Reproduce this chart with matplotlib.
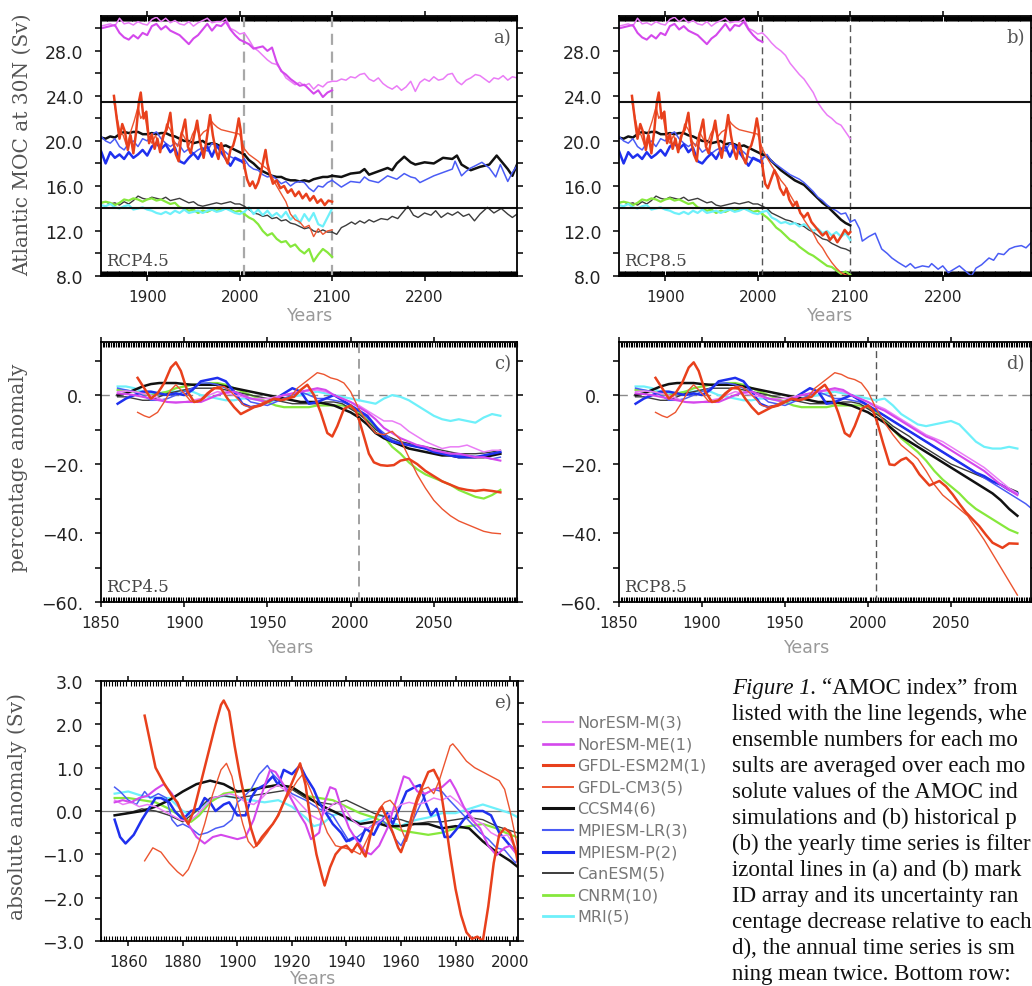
import numpy as np
import matplotlib
matplotlib.use('Agg')
import matplotlib.pyplot as plt
from matplotlib.ticker import MultipleLocator

W, H = 1032, 987

# ---------------- legend ----------------
model_names = ['NorESM-M(3)', 'NorESM-ME(1)', 'GFDL-ESM2M(1)', 'GFDL-CM3(5)', 'CCSM4(6)',
               'MPIESM-LR(3)', 'MPIESM-P(2)', 'CanESM(5)', 'CNRM(10)', 'MRI(5)']
model_keys = ['nm', 'nme', 'esm', 'cm3', 'ccsm', 'lr', 'p', 'can', 'cnrm', 'mri']
model_colors = ['#ea7cf6', '#d448ec', '#e8401c', '#ec5530', '#111111',
                '#4a5cf5', '#1f30ee', '#3c3c3c', '#86e83c', '#6ef0fa']
model_widths = [1.1, 1.5, 1.8, 1.0, 1.8, 1.1, 1.8, 1.0, 1.6, 1.6]

# ---------------- panels a/b: AMOC at 30N (Sv) ----------------
hist_years = list(range(1850, 2006, 5))
scen_years = list(range(2005, 2101, 5))

noresm_m_hist = [30.2, 30.3, 30.4, 30.2, 30.9, 30.4, 30.5, 30.3, 30.6, 30.4, 30.3, 30.8, 31.0, 30.6, 30.9, 30.5,
                 30.7, 30.4, 30.3, 30.6, 30.2, 30.5, 30.7, 30.9, 30.5, 30.6, 30.6, 30.9, 30.0, 29.8, 29.5, 29.6]
noresm_me_hist = [30.0, 30.1, 30.2, 30.3, 29.6, 29.2, 29.0, 29.4, 29.1, 29.6, 29.4, 30.2, 30.4, 29.9, 30.2, 29.8,
                  29.6, 29.4, 29.0, 28.6, 29.1, 29.4, 29.9, 30.4, 29.8, 30.3, 30.2, 30.6, 29.9, 29.4, 29.0, 28.8]
ccsm4_hist = [20.3, 20.2, 20.4, 20.3, 20.6, 20.8, 20.7, 20.8, 20.8, 20.6, 20.6, 20.7, 20.6, 20.7, 20.7, 20.5,
              20.4, 20.2, 20.0, 20.0, 19.8, 19.9, 20.0, 19.7, 19.8, 19.7, 19.5, 19.6, 19.4, 19.2, 19.0, 18.8]
mpi_lr_hist = [20.4, 20.0, 19.8, 20.2, 19.5, 19.2, 19.8, 20.0, 19.5, 20.2, 20.0, 20.6, 20.8, 20.2, 19.8, 19.5,
               19.8, 19.6, 19.0, 19.3, 18.9, 19.2, 19.4, 19.1, 19.8, 19.6, 19.3, 19.0, 18.6, 18.4, 18.2, 18.4]
mpi_p_hist = [19.1, 18.0, 19.0, 18.5, 18.8, 18.4, 19.0, 18.5, 18.8, 19.2, 18.7, 19.5, 19.8, 19.3, 19.7, 19.0,
              19.4, 18.2, 18.0, 18.5, 18.9, 18.4, 19.2, 19.5, 18.6, 19.6, 19.0, 18.4, 17.8, 18.5, 18.3, 18.0]
canesm_hist = [14.5, 14.6, 14.4, 14.5, 14.3, 14.6, 14.4, 14.7, 15.1, 14.9, 14.8, 15.0, 14.9, 14.8, 15.0, 14.7,
               14.8, 14.9, 14.7, 14.5, 14.6, 14.3, 14.2, 14.3, 14.4, 14.5, 14.4, 14.5, 14.6, 14.4, 14.4, 14.2]
cnrm_hist = [14.5, 14.6, 14.5, 14.3, 14.5, 14.8, 14.7, 14.9, 14.8, 14.6, 14.8, 14.9, 14.7, 14.8, 14.6, 14.4,
             14.5, 14.1, 14.0, 13.8, 13.9, 13.6, 13.8, 13.7, 13.9, 13.8, 13.9, 14.0, 13.9, 13.7, 13.8, 13.5]
mri_hist = [14.3, 14.2, 14.4, 14.1, 14.0, 14.2, 14.3, 13.9, 14.0, 14.1, 13.9, 13.8, 13.6, 13.5, 13.7, 13.5,
            13.8, 13.6, 13.9, 13.6, 13.7, 13.8, 13.6, 13.8, 13.9, 13.7, 13.8, 14.0, 13.8, 13.6, 13.5, 13.7]
esm2m_hist = [(1864, 24.0), (1867, 22.0), (1870, 20.2), (1873, 21.5), (1876, 20.8), (1879, 19.2), (1882, 20.5),
              (1885, 18.9), (1888, 20.8), (1891, 23.5), (1893, 24.3), (1896, 22.0), (1899, 22.6), (1902, 19.8),
              (1905, 20.6), (1908, 19.3), (1911, 20.2), (1914, 19.0), (1917, 20.4), (1921, 21.0), (1925, 22.5),
              (1928, 20.0), (1931, 18.8), (1934, 18.2), (1937, 20.5), (1941, 21.9), (1944, 19.5), (1947, 18.9),
              (1950, 20.2), (1954, 21.8), (1957, 20.0), (1961, 18.5), (1964, 20.0), (1968, 22.3), (1971, 20.5),
              (1974, 19.2), (1977, 18.4), (1980, 19.8), (1984, 18.6), (1987, 18.0), (1990, 19.2), (1993, 19.6),
              (1996, 20.5), (1999, 22.0), (2001, 21.0), (2003, 19.2), (2005, 17.8)]
cm3_hist = [(1864, 23.5), (1867, 22.2), (1870, 21.0), (1874, 20.5), (1878, 19.5), (1882, 20.8), (1886, 21.8),
            (1890, 23.0), (1893, 22.0), (1897, 22.5), (1901, 20.5), (1905, 19.8), (1909, 20.5), (1913, 19.5),
            (1917, 20.0), (1921, 21.5), (1925, 21.0), (1929, 20.0), (1933, 19.5), (1937, 20.8), (1941, 20.2),
            (1945, 19.6), (1949, 20.6), (1953, 21.2), (1957, 20.4), (1961, 20.8), (1965, 21.0), (1969, 21.8),
            (1972, 21.5), (1976, 21.2), (1980, 21.0), (1985, 20.9), (1990, 20.8), (1995, 20.7), (2000, 20.6),
            (2003, 19.8), (2005, 19.3)]

# RCP4.5
noresm_m_45 = [29.6, 29.0, 28.3, 28.0, 27.6, 27.2, 26.9, 26.8, 26.3, 25.6, 25.3, 25.0, 25.2, 24.9, 25.1, 24.6,
               25.0, 24.8, 25.2, 25.3]
noresm_me_45 = [28.8, 28.6, 28.2, 28.3, 28.4, 28.0, 28.3, 27.0, 26.2, 25.9, 25.5, 25.2, 24.9, 25.0, 24.6, 24.2,
                24.5, 23.9, 24.3, 24.5]
ccsm4_45 = [18.8, 18.3, 18.0, 17.6, 17.3, 17.1, 16.9, 16.8, 16.8, 16.6, 16.5, 16.5, 16.4, 16.5, 16.4, 16.6,
            16.7, 16.8, 16.8, 16.9]
mpi_lr_45 = [18.4, 17.8, 17.5, 17.4, 17.0, 16.8, 16.9, 16.6, 16.2, 16.4, 16.0, 16.3, 16.4, 16.3, 15.8, 15.5,
             16.0, 15.9, 16.3, 16.5]
canesm_45 = [14.2, 13.9, 13.6, 13.5, 13.3, 13.4, 13.1, 13.2, 12.9, 13.0, 12.7, 12.6, 12.4, 12.2, 12.3, 12.0,
             11.9, 12.1, 11.9, 11.9]
cnrm_45 = [13.5, 13.2, 13.0, 12.6, 12.0, 11.6, 11.8, 11.3, 11.0, 11.1, 10.6, 10.8, 10.3, 10.0, 10.4, 9.3,
           9.9, 10.4, 10.1, 9.7]
mri_45 = [13.7, 14.1, 13.5, 13.9, 13.4, 13.8, 13.3, 13.6, 13.2, 13.7, 13.0, 13.4, 12.7, 13.5, 12.9, 13.6,
          12.6, 12.4, 13.2, 14.0]
cm3_45 = [19.3, 18.8, 18.5, 18.2, 17.8, 17.5, 16.8, 16.0, 15.3, 14.6, 13.5, 13.0, 12.8, 12.3, 12.5, 11.5,
          12.2, 11.7, 12.0, 12.1]
esm2m_45 = [(2005, 17.8), (2008, 16.6), (2011, 16.0), (2014, 16.4), (2017, 15.8), (2020, 16.3), (2023, 17.2),
            (2026, 18.4), (2028, 19.2), (2030, 18.0), (2033, 17.0), (2036, 16.2), (2040, 16.5), (2044, 15.8),
            (2048, 16.0), (2052, 15.4), (2056, 15.7), (2060, 15.1), (2064, 15.5), (2068, 14.9), (2072, 15.3),
            (2076, 14.7), (2080, 15.1), (2084, 14.5), (2088, 14.8), (2092, 14.3), (2096, 14.7), (2100, 14.6)]
noresm_m_ext45 = [(2100, 25.3), (2105, 25.3), (2110, 25.5), (2115, 25.4), (2120, 25.7), (2125, 25.6), (2130, 25.9),
                  (2135, 26.0), (2140, 25.5), (2145, 25.3), (2150, 25.6), (2155, 25.1), (2160, 24.8), (2165, 24.6),
                  (2170, 24.9), (2175, 24.5), (2180, 24.8), (2185, 25.3), (2190, 24.4), (2195, 25.2), (2200, 25.5),
                  (2205, 25.3), (2210, 25.7), (2215, 25.4), (2220, 25.5), (2225, 25.9), (2230, 26.0), (2235, 25.3),
                  (2240, 25.0), (2245, 25.4), (2250, 25.6), (2255, 25.9), (2260, 25.8), (2265, 25.5), (2270, 25.2),
                  (2275, 25.6), (2280, 25.5), (2285, 25.8), (2290, 25.4), (2295, 25.7), (2300, 25.6)]
ccsm4_ext45 = [(2100, 16.9), (2110, 16.8), (2120, 17.1), (2130, 17.2), (2135, 17.5), (2140, 17.0), (2150, 17.3),
               (2160, 17.6), (2165, 17.4), (2170, 18.0), (2178, 18.6), (2185, 18.1), (2190, 17.9), (2200, 18.1),
               (2210, 18.0), (2220, 18.5), (2230, 18.4), (2235, 18.7), (2240, 17.9), (2250, 17.4), (2260, 17.7),
               (2270, 17.9), (2278, 18.7), (2285, 18.0), (2290, 17.5), (2295, 16.9), (2300, 17.9)]
mpi_lr_ext45 = [(2100, 16.5), (2105, 16.2), (2110, 15.9), (2120, 16.4), (2130, 16.3), (2135, 16.8), (2140, 16.5),
                (2150, 16.3), (2155, 16.6), (2160, 16.9), (2170, 16.6), (2178, 17.1), (2185, 16.8), (2190, 16.7),
                (2195, 16.3), (2200, 16.5), (2210, 16.9), (2220, 17.2), (2230, 17.5), (2233, 18.2), (2240, 16.9),
                (2245, 17.3), (2250, 17.6), (2255, 17.8), (2262, 18.1), (2270, 17.6), (2277, 16.8), (2282, 17.9),
                (2290, 16.4), (2295, 17.2), (2300, 17.8)]
canesm_ext45 = [(2100, 11.9), (2105, 11.7), (2110, 12.3), (2115, 12.5), (2121, 12.8), (2125, 12.6), (2130, 12.9),
                (2135, 12.7), (2140, 13.0), (2145, 12.8), (2153, 13.1), (2160, 13.0), (2165, 13.3), (2171, 13.1),
                (2176, 13.6), (2182, 14.2), (2188, 13.4), (2193, 13.2), (2200, 13.6), (2207, 13.4), (2212, 13.8),
                (2218, 13.2), (2225, 13.6), (2230, 13.4), (2236, 13.7), (2242, 13.3), (2248, 13.5), (2254, 12.9),
                (2260, 13.5), (2268, 14.1), (2275, 13.6), (2283, 14.0), (2290, 13.5), (2295, 13.2), (2300, 13.5)]

# RCP8.5
noresm_m_85 = [29.6, 29.2, 28.7, 28.3, 28.0, 27.6, 26.9, 26.4, 25.9, 25.5, 24.9, 24.3, 23.4, 22.8, 22.3, 22.0,
               21.6, 21.4, 20.8, 20.2]
ccsm4_85 = [18.8, 18.6, 18.2, 17.8, 17.4, 17.1, 16.8, 16.5, 16.3, 16.1, 15.7, 15.3, 14.9, 14.5, 14.2, 13.8,
            13.4, 13.0, 12.7, 12.5]
mpi_lr_85 = [18.4, 18.8, 18.2, 17.9, 17.6, 17.3, 17.0, 16.8, 16.6, 16.3, 15.9, 15.5, 15.0, 14.7, 14.3, 14.0,
             13.8, 13.5, 13.6, 12.8]
canesm_85 = [14.2, 14.0, 13.6, 13.4, 13.2, 13.0, 12.9, 12.7, 12.6, 12.4, 12.1, 11.9, 11.6, 11.3, 11.2, 10.9,
             10.7, 10.5, 10.4, 10.2]
cnrm_85 = [13.5, 13.2, 12.8, 12.3, 12.0, 11.6, 11.2, 11.0, 10.6, 10.3, 10.0, 9.8, 9.5, 9.2, 8.9, 8.8,
           8.5, 8.2, 8.4, 8.1]
mri_85 = [13.7, 13.8, 13.2, 13.0, 12.7, 12.8, 12.6, 12.7, 12.4, 12.6, 12.3, 12.0, 12.2, 11.8, 12.0, 11.6,
          11.9, 11.5, 11.8, 11.2]
cm3_85 = [19.3, 18.5, 17.8, 17.2, 16.5, 16.0, 15.2, 14.5, 13.8, 13.0, 12.4, 11.8, 11.0, 10.5, 9.8, 9.2,
          8.7, 8.3, 8.1, 8.0]
esm2m_85 = [(2005, 17.8), (2008, 16.2), (2011, 15.8), (2014, 16.5), (2018, 17.4), (2021, 16.8), (2024, 15.8),
            (2028, 15.2), (2031, 15.8), (2034, 14.8), (2038, 14.2), (2042, 14.6), (2046, 13.6), (2050, 13.2),
            (2054, 13.6), (2058, 12.8), (2062, 12.4), (2066, 12.0), (2070, 11.6), (2074, 11.9), (2078, 11.2),
            (2082, 11.6), (2086, 11.0), (2090, 11.5), (2094, 12.1), (2098, 11.7), (2100, 11.9)]
mpi_lr_ext85 = [(2100, 12.8), (2105, 13.0), (2110, 12.2), (2113, 11.1), (2120, 11.5), (2127, 11.8), (2134, 10.4),
                (2140, 10.0), (2145, 9.6), (2152, 9.2), (2160, 8.8), (2165, 9.1), (2170, 8.7), (2178, 8.9),
                (2185, 8.8), (2188, 9.1), (2195, 8.6), (2200, 8.9), (2206, 8.3), (2212, 8.6), (2218, 8.9),
                (2225, 8.4), (2231, 8.0), (2236, 8.7), (2242, 9.0), (2250, 9.6), (2255, 9.4), (2260, 10.0),
                (2266, 9.9), (2272, 10.4), (2278, 10.6), (2285, 10.7), (2290, 10.5), (2296, 11.0), (2300, 11.2)]

# ---------------- panels c/d: percentage anomaly ----------------
pct_hist_years = list(range(1860, 2006, 5))
pct_scen_years = list(range(2005, 2091, 5))

noresm_m_pct = [1.0, 1.2, 1.0, 0.5, 0.0, -1.0, -2.0, -2.0, -2.0, -1.5, -1.0, 0.0, 1.0, 0.5, 0.0,
                -0.5, -1.0, -1.0, -1.0, -0.5, 0.0, 0.5, 1.0, 1.2, 1.5, 1.0, 0.0, -1.0, -2.0, -3.0]
noresm_me_pct = [0.5, 0.3, 0.0, -0.5, -1.0, -1.5, -2.0, -2.2, -2.0, -2.0, -2.0, -1.0, 0.0, 0.8, 1.0,
                 0.0, -1.0, -1.5, -2.0, -1.0, 0.0, 0.5, 1.0, 1.5, 2.0, 1.5, 0.0, -1.0, -2.0, -3.5]
ccsm4_pct = [0.0, 0.5, 1.5, 2.5, 3.2, 3.5, 3.5, 3.5, 3.2, 3.0, 3.0, 3.0, 3.0, 2.5, 2.0,
             1.5, 1.0, 0.5, 0.0, -0.5, -1.0, -1.5, -2.0, -2.0, -2.0, -2.5, -3.0, -4.0, -5.0, -6.5]
canesm_pct = [-0.5, -0.5, -1.0, -1.5, -1.5, -0.5, 0.5, 1.0, 1.5, 2.0, 2.0, 2.0, 2.0, 1.5, 1.0,
              0.5, 0.0, -0.5, -1.0, -1.5, -2.0, -2.5, -2.5, -2.5, -2.5, -2.0, -2.0, -2.5, -4.0, -5.5]
mpi_lr_pct = [2.0, 1.5, 1.0, 0.0, -1.5, -1.5, -1.0, 0.0, 1.0, 2.0, 3.5, 3.5, 3.0, 2.0, 1.0,
              0.0, -2.0, -2.5, -3.0, -2.0, -1.0, 0.0, 1.0, 0.0, -1.0, -1.0, -1.5, -2.0, -3.0, -4.5]
mpi_p_pct = [-2.5, -1.0, 0.0, 1.0, 1.0, 0.5, 0.0, 0.5, 0.0, 1.5, 4.0, 4.5, 5.0, 4.0, 1.0,
             -2.5, -3.5, -3.0, -2.0, -1.0, 0.5, 2.0, 1.0, -2.5, -2.0, -1.0, 0.0, -1.5, -3.0, -4.5]
cnrm_pct = [1.5, 1.3, 1.0, 0.5, 0.0, 0.5, 1.0, 2.0, 2.5, 3.0, 3.0, 3.5, 3.5, 3.0, 2.0,
            1.0, 0.0, -1.0, -2.0, -3.0, -3.5, -3.5, -3.5, -3.5, -3.0, -3.0, -3.0, -3.0, -3.5, -5.0]
mri_pct = [2.5, 2.5, 2.0, 1.0, 0.5, 0.5, 1.0, 1.0, 1.5, 1.0, 0.0, -0.5, -1.0, -1.5, -1.5,
           -1.0, -1.0, -1.5, -2.0, -1.5, -1.0, -0.5, 0.0, 0.5, 1.0, 0.5, 0.0, -0.5, -1.0, -1.5]
esm2m_pct = [(1872, 5.0), (1876, 2.0), (1880, -1.0), (1884, 0.5), (1888, 3.5), (1892, 8.0), (1895, 9.5),
             (1898, 7.0), (1902, 1.0), (1906, -2.0), (1910, -1.5), (1914, 0.5), (1918, 2.0), (1922, 2.0),
             (1926, -1.0), (1930, -3.5), (1934, -5.5), (1938, -4.5), (1942, -3.5), (1946, -3.0), (1950, -2.0),
             (1954, -1.0), (1958, -1.5), (1962, -1.0), (1966, -0.5), (1970, 1.5), (1974, 3.0), (1978, 0.0),
             (1982, -5.0), (1986, -11.0), (1989, -12.0), (1992, -9.0), (1996, -4.0), (2000, -3.0),
             (2003, -4.5), (2005, -7.0)]
cm3_pct = [(1872, -5.0), (1876, -6.0), (1879, -6.5), (1884, -5.0), (1888, -2.0), (1892, 1.5), (1895, 3.0),
           (1900, 0.5), (1904, -1.8), (1908, -2.0), (1912, -1.0), (1916, 1.0), (1920, 2.5), (1924, 2.5),
           (1928, 1.0), (1932, -1.0), (1936, -3.0), (1940, -3.5), (1944, -3.0), (1948, -2.0), (1952, -1.5),
           (1956, -1.0), (1960, -1.5), (1964, -0.5), (1968, 2.0), (1972, 3.5), (1976, 5.0), (1980, 6.5),
           (1984, 6.0), (1988, 5.0), (1992, 4.5), (1996, 3.5), (2000, 1.0), (2005, -4.0)]

# RCP4.5 percentages
noresm_m_pct45 = [-3.0, -4.5, -6.0, -7.5, -7.5, -8.5, -10.5, -12.0, -13.5, -14.5, -15.5, -15.0, -15.0, -14.5,
                  -15.5, -16.5, -16.0, -16.0]
noresm_me_pct45 = [-3.5, -5.0, -7.0, -9.5, -11.0, -12.5, -13.5, -14.5, -15.0, -16.0, -16.5, -17.0, -17.0, -17.5,
                   -18.0, -18.0, -18.5, -19.0]
ccsm4_pct45 = [-6.5, -8.5, -11.0, -12.5, -13.5, -14.5, -15.5, -16.0, -16.5, -17.0, -17.5, -17.5, -18.0, -18.0,
               -18.0, -18.0, -17.5, -17.0]
canesm_pct45 = [-5.5, -7.5, -10.0, -11.5, -12.5, -13.5, -14.0, -14.5, -15.0, -15.5, -16.0, -16.5, -17.0, -17.0,
                -17.0, -16.8, -16.5, -16.0]
mpi_lr_pct45 = [-4.5, -6.5, -9.0, -11.0, -13.0, -14.0, -14.5, -15.0, -15.5, -16.0, -16.5, -17.0, -17.5, -17.5,
                -17.8, -18.0, -18.5, -18.0]
mpi_p_pct45 = [-4.5, -6.0, -9.0, -12.0, -13.5, -14.0, -14.5, -15.0, -15.5, -16.5, -17.0, -17.5, -18.0, -18.0,
               -18.0, -17.5, -17.0, -16.5]
cnrm_pct45 = [-5.0, -7.0, -9.5, -12.0, -15.0, -17.0, -19.5, -21.5, -23.0, -24.0, -25.0, -26.0, -27.5, -28.5,
              -29.5, -30.0, -29.0, -27.5]
mri_pct45 = [-1.5, -2.0, -2.5, -1.0, 0.0, -0.5, -1.5, -3.0, -4.5, -6.0, -7.0, -7.5, -7.0, -7.5, -8.0, -6.5,
             -5.5, -6.0]
cm3_pct45 = [-4.0, -8.0, -11.0, -11.5, -10.5, -13.0, -18.0, -23.0, -27.0, -30.5, -33.0, -35.0, -36.5, -37.5,
             -38.5, -39.5, -40.0, -40.2]
esm2m_pct45 = [(2005, -7.0), (2008, -12.0), (2011, -17.0), (2014, -19.5), (2018, -20.3), (2022, -20.5),
               (2026, -20.3), (2030, -19.0), (2035, -18.5), (2040, -20.0), (2045, -22.0), (2050, -23.5),
               (2055, -25.0), (2060, -26.0), (2065, -27.0), (2070, -27.5), (2075, -27.8), (2080, -27.5),
               (2085, -27.8), (2090, -28.2)]

# RCP8.5 percentages
noresm_m_pct85 = [-3.0, -4.0, -5.5, -7.0, -8.5, -10.0, -11.5, -12.5, -13.5, -15.0, -16.5, -18.0, -19.5, -21.0,
                  -23.0, -25.0, -27.0, -28.5]
noresm_me_pct85 = [-3.5, -4.5, -6.0, -7.5, -9.0, -10.5, -12.0, -13.0, -14.5, -16.0, -17.5, -19.0, -20.5, -22.0,
                   -24.0, -26.0, -27.5, -29.0]
ccsm4_pct85 = [-6.5, -8.0, -10.0, -12.0, -13.5, -15.0, -16.5, -18.0, -19.5, -21.0, -22.5, -24.0, -25.5, -27.0,
               -28.5, -30.5, -33.0, -35.0]
canesm_pct85 = [-5.5, -7.0, -9.0, -10.5, -12.0, -14.0, -15.5, -17.0, -18.5, -20.0, -21.0, -22.0, -23.0, -24.0,
                -25.0, -26.0, -27.0, -28.0]
mpi_lr_pct85 = [-4.5, -6.0, -7.5, -9.0, -10.5, -12.0, -13.5, -15.0, -16.5, -18.0, -19.5, -21.0, -22.5, -24.0,
                -25.5, -27.0, -28.5, -30.0, -31.5, -33.5]  # runs to 2100
mpi_p_pct85 = [-4.5, -6.0, -7.5, -9.0, -10.5, -12.0, -13.5, -15.0, -16.5, -18.0, -19.5, -21.0, -22.5, -23.5,
               -25.0, -26.0, -27.5, -28.5]
cnrm_pct85 = [-5.0, -7.5, -10.0, -12.5, -14.5, -16.5, -19.0, -22.0, -24.5, -26.5, -28.5, -31.0, -33.0, -34.5,
              -36.0, -37.5, -39.0, -40.0]
mri_pct85 = [-1.5, -1.0, -3.0, -5.5, -7.0, -8.5, -9.0, -8.5, -8.0, -7.5, -8.5, -11.0, -13.5, -15.0, -15.5,
             -15.5, -15.0, -15.5]
cm3_pct85 = [-4.0, -8.0, -11.5, -14.5, -16.5, -18.5, -22.0, -26.0, -29.0, -31.0, -33.0, -35.0, -38.5, -42.0,
             -46.0, -50.0, -54.0, -58.0]
esm2m_pct85 = [(2005, -7.0), (2009, -13.8), (2013, -20.1), (2016, -20.3), (2020, -18.8), (2023, -18.2),
               (2027, -20.0), (2031, -23.0), (2037, -26.2), (2043, -24.9), (2047, -26.5), (2051, -28.8),
               (2055, -31.5), (2059, -34.0), (2063, -36.0), (2067, -38.0), (2071, -40.5), (2075, -42.8),
               (2081, -44.3), (2085, -43.0), (2090, -43.1)]

# ---------------- panel e: absolute anomaly (Sv) ----------------
e_noresm_m = [(1855, 0.25), (1858, 0.15), (1861, 0.2), (1864, 0.1), (1867, 0.15), (1870, 0.1), (1873, 0.0),
              (1876, -0.1), (1879, -0.2), (1882, -0.25), (1885, -0.1), (1888, 0.1), (1891, 0.3), (1894, 0.35),
              (1897, 0.4), (1900, 0.35), (1903, 0.2), (1906, 0.15), (1909, 0.3), (1912, 0.5), (1915, 0.6),
              (1918, 0.45), (1921, 0.3), (1924, 0.1), (1927, -0.1), (1930, -0.2), (1933, 0.05), (1936, 0.2),
              (1939, 0.1), (1942, -0.2), (1945, -0.35), (1948, -0.4), (1951, -0.3), (1954, -0.15), (1957, 0.0),
              (1960, 0.15), (1963, 0.2), (1966, 0.15), (1969, 0.2), (1972, 0.3), (1975, 0.25), (1978, 0.35),
              (1981, 0.2), (1984, 0.0), (1987, -0.2), (1990, -0.3), (1993, -0.5), (1996, -0.6), (1999, -0.55),
              (2002, -0.85), (2005, -0.9)]
e_noresm_me = [(1855, 0.2), (1858, 0.25), (1861, 0.2), (1864, 0.3), (1867, 0.35), (1870, 0.5), (1873, 0.62),
               (1876, 0.4), (1879, 0.05), (1882, -0.3), (1885, -0.6), (1888, -0.75), (1891, -0.6), (1894, -0.55),
               (1897, -0.6), (1900, -0.65), (1903, -0.6), (1906, -0.2), (1909, 0.4), (1912, 0.95), (1914, 0.9),
               (1917, 0.6), (1920, 0.25), (1923, -0.1), (1925, -0.3), (1927, -0.65), (1930, -0.5), (1932, 0.2),
               (1934, 0.55), (1936, 0.5), (1938, 0.1), (1941, -0.4), (1944, -0.7), (1947, -0.95), (1949, -1.0),
               (1952, -0.8), (1955, -0.4), (1958, 0.2), (1961, 0.8), (1963, 0.75), (1966, 0.45), (1969, 0.4),
               (1972, 0.5), (1975, 0.55), (1978, 0.72), (1980, 0.5), (1983, 0.1), (1986, -0.2), (1989, -0.4),
               (1992, -0.8), (1995, -1.02), (1998, -0.85), (2000, -0.8), (2003, -1.05)]
e_esm2m = [(1866, 2.2), (1868, 1.6), (1870, 1.0), (1873, 0.65), (1876, 0.35), (1878, 0.2), (1880, -0.1),
           (1882, -0.3), (1884, 0.0), (1886, 0.5), (1888, 1.0), (1890, 1.5), (1892, 2.0), (1894, 2.45),
           (1895, 2.55), (1897, 2.3), (1899, 1.5), (1901, 0.8), (1903, 0.2), (1905, -0.4), (1907, -0.8),
           (1909, -0.6), (1911, -0.45), (1913, -0.3), (1915, -0.1), (1917, 0.2), (1919, 0.5), (1921, 0.8),
           (1923, 1.1), (1925, 0.6), (1927, -0.3), (1929, -1.0), (1931, -1.5), (1932, -1.72), (1934, -1.3),
           (1936, -1.0), (1938, -0.85), (1940, -0.8), (1942, -0.95), (1944, -0.75), (1946, -0.95), (1947, -1.05),
           (1949, -0.5), (1951, -0.1), (1953, 0.1), (1955, -0.2), (1957, -0.5), (1959, -0.85), (1960, -0.95),
           (1962, -0.6), (1964, -0.1), (1966, 0.3), (1968, 0.6), (1970, 0.9), (1972, 0.95), (1974, 0.7),
           (1976, -0.1), (1978, -1.0), (1980, -1.8), (1982, -2.4), (1984, -2.8), (1986, -2.95), (1988, -2.9),
           (1990, -3.0), (1992, -2.2), (1994, -1.2), (1996, -0.55), (1998, -0.4), (2000, -0.5), (2002, -0.9),
           (2004, -1.6)]
e_cm3 = [(1866, -1.15), (1869, -0.85), (1872, -0.95), (1875, -1.2), (1878, -1.4), (1880, -1.5), (1882, -1.35),
         (1885, -0.9), (1888, -0.3), (1891, 0.4), (1894, 0.95), (1896, 1.1), (1898, 0.8), (1900, 0.2),
         (1902, -0.3), (1904, -0.7), (1906, -0.85), (1908, -0.75), (1911, -0.5), (1914, -0.2), (1917, 0.2),
         (1920, 0.5), (1922, 0.7), (1924, 0.85), (1926, 0.6), (1928, 0.3), (1930, 0.0), (1933, -0.5),
         (1936, -0.8), (1939, -0.85), (1942, -0.9), (1945, -1.0), (1948, -0.6), (1950, -0.3), (1952, 0.05),
         (1954, 0.2), (1956, 0.25), (1958, 0.1), (1960, -0.4), (1962, -0.7), (1964, -0.3), (1966, 0.2),
         (1968, 0.5), (1970, 0.55), (1972, 0.4), (1974, 0.7), (1976, 1.1), (1978, 1.5), (1979, 1.55),
         (1981, 1.4), (1984, 1.15), (1987, 1.0), (1990, 0.9), (1993, 0.8), (1996, 0.7), (1998, 0.5),
         (2000, 0.0), (2002, -0.6), (2004, -1.3)]
e_ccsm4 = [(1855, -0.1), (1860, -0.05), (1865, 0.0), (1870, 0.1), (1875, 0.25), (1880, 0.45), (1885, 0.62),
           (1890, 0.7), (1895, 0.62), (1900, 0.45), (1905, 0.48), (1910, 0.55), (1915, 0.6), (1920, 0.55),
           (1925, 0.35), (1930, 0.15), (1935, 0.0), (1940, -0.15), (1945, -0.3), (1950, -0.25), (1955, -0.35),
           (1960, -0.35), (1965, -0.3), (1970, -0.3), (1975, -0.4), (1980, -0.35), (1985, -0.4), (1990, -0.7),
           (1995, -0.95), (2000, -1.15), (2003, -1.3), (2005, -1.25)]
e_canesm = [(1855, -0.1), (1860, -0.05), (1865, 0.05), (1870, 0.0), (1875, -0.1), (1880, -0.25), (1885, 0.0),
            (1890, 0.3), (1895, 0.35), (1900, 0.3), (1905, 0.35), (1910, 0.4), (1915, 0.45), (1920, 0.5),
            (1925, 0.3), (1930, 0.2), (1935, 0.15), (1940, 0.25), (1945, 0.1), (1950, -0.05), (1955, -0.15),
            (1960, -0.2), (1965, -0.3), (1970, -0.25), (1975, -0.25), (1980, -0.2), (1985, -0.15), (1990, -0.2),
            (1995, -0.35), (2000, -0.45), (2005, -0.55)]
e_mpi_lr = [(1855, 0.55), (1857, 0.45), (1860, 0.25), (1863, 0.15), (1866, 0.45), (1868, 0.3), (1871, 0.4),
            (1874, 0.3), (1876, -0.2), (1878, -0.35), (1880, -0.3), (1883, -0.4), (1886, -0.55), (1889, -0.5),
            (1892, -0.4), (1895, -0.35), (1898, -0.2), (1900, 0.2), (1902, 0.3), (1905, 0.5), (1908, 0.85),
            (1911, 1.05), (1913, 0.85), (1916, 0.65), (1920, 0.4), (1925, 0.25), (1930, 0.05), (1935, -0.1),
            (1938, -0.4), (1941, -0.7), (1944, -0.6), (1947, -0.45), (1950, -0.3), (1953, -0.2), (1956, -0.4),
            (1958, -0.65), (1960, -0.8), (1963, -0.4), (1966, 0.0), (1969, 0.4), (1972, 0.5), (1975, 0.45),
            (1977, 0.3), (1980, 0.1), (1983, -0.1), (1986, -0.3), (1989, -0.5), (1992, -0.65), (1995, -0.85),
            (1998, -0.9), (2000, -1.05), (2002, -1.2), (2004, -0.95)]
e_mpi_p = [(1855, -0.2), (1857, -0.6), (1859, -0.75), (1862, -0.55), (1865, -0.2), (1868, 0.1), (1870, 0.3),
           (1872, 0.3), (1875, 0.2), (1877, 0.0), (1880, -0.2), (1883, 0.0), (1886, 0.05), (1888, 0.3),
           (1890, 0.2), (1892, 0.0), (1895, 0.15), (1897, 0.2), (1900, -0.1), (1903, -0.1), (1905, 0.3),
           (1907, 0.5), (1910, 0.6), (1913, 0.8), (1915, 0.6), (1917, 0.95), (1920, 0.85), (1923, 1.05),
           (1925, 0.8), (1928, 0.5), (1930, 0.2), (1933, -0.1), (1935, -0.3), (1938, -0.5), (1940, -0.7),
           (1943, -0.6), (1945, -0.7), (1947, -0.4), (1950, -0.55), (1952, -0.3), (1955, -0.05), (1957, -0.3),
           (1959, 0.0), (1962, 0.45), (1965, 0.55), (1967, 0.6), (1969, 0.2), (1971, -0.1), (1973, 0.05),
           (1976, -0.6), (1978, -0.6), (1980, -0.45), (1983, -0.2), (1986, 0.0), (1990, 0.0), (1993, -0.1),
           (1996, -0.5), (2000, -0.8), (2003, -1.0)]
e_cnrm = [(1855, 0.3), (1860, 0.3), (1865, 0.25), (1870, 0.2), (1875, 0.05), (1880, -0.15), (1883, -0.25),
          (1886, -0.1), (1890, 0.2), (1895, 0.4), (1900, 0.45), (1905, 0.5), (1910, 0.55), (1915, 0.6),
          (1920, 0.55), (1925, 0.35), (1930, 0.3), (1935, 0.25), (1940, 0.1), (1945, -0.05), (1950, -0.15),
          (1955, -0.3), (1960, -0.45), (1965, -0.5), (1970, -0.55), (1975, -0.5), (1980, -0.4), (1985, -0.35),
          (1990, -0.3), (1995, -0.4), (2000, -0.55), (2005, -0.65)]
e_mri = [(1855, 0.4), (1860, 0.45), (1865, 0.35), (1870, 0.3), (1875, 0.3), (1880, 0.0), (1883, -0.1),
         (1886, 0.05), (1890, 0.25), (1895, 0.35), (1900, 0.3), (1905, 0.25), (1910, 0.2), (1915, 0.25),
         (1920, 0.1), (1925, -0.15), (1928, -0.35), (1931, -0.3), (1935, -0.1), (1938, -0.05), (1940, -0.2),
         (1945, -0.25), (1950, -0.15), (1953, -0.1), (1956, -0.25), (1960, -0.35), (1963, -0.25), (1966, -0.2),
         (1970, -0.15), (1975, -0.05), (1980, -0.05), (1985, 0.05), (1990, 0.15), (1995, 0.05), (2000, -0.05),
         (2003, -0.15), (2005, -0.1)]

caption_lines = ['listed with the line legends, whe', 'ensemble numbers for each mo',
                 'sults are averaged over each mo', 'solute values of the AMOC ind',
                 'simulations and (b) historical p', '(b) the yearly time series is filter',
                 'izontal lines in (a) and (b) mark', 'ID array and its uncertainty ran',
                 'centage decrease relative to each', 'd), the annual time series is sm',
                 'ning mean twice. Bottom row:']

# ---------------- drawing ----------------
COL = dict(zip(model_keys, model_colors))
LW = dict(zip(model_keys, model_widths))
SANS = 'DejaVu Sans'
SERIF = 'DejaVu Serif'

fig = plt.figure(figsize=(W / 100, H / 100), dpi=100)


def add_ax(left, top, right, bottom):
    return fig.add_axes([left / W, 1 - bottom / H, (right - left) / W, (bottom - top) / H])


def draw(ax, x, y, key):
    ax.plot(x, y, color=COL[key], lw=LW[key], solid_joinstyle='round', zorder=3)


def draw_pairs(ax, data, key):
    x, y = zip(*data)
    draw(ax, x, y, key)


def style(ax, xticks, yticks, ylabels, yminor):
    for s in ax.spines.values():
        s.set_linewidth(1.3)
        s.set_zorder(5)
    ax.set_xticks(xticks)
    ax.set_xticklabels([str(t) for t in xticks])
    ax.set_yticks(yticks)
    ax.set_yticklabels(ylabels)
    ax.xaxis.set_minor_locator(MultipleLocator(1))
    ax.yaxis.set_minor_locator(MultipleLocator(yminor))
    ax.tick_params(axis='x', which='major', direction='out', length=3.5, width=1.1,
                   top=True, bottom=True, labelsize=11, pad=6, labelcolor='#222222')
    ax.tick_params(axis='x', which='minor', direction='in', length=3.5, width=0.8, top=True, bottom=True)
    ax.tick_params(axis='y', which='both', direction='out', length=4.5, width=1.1,
                   left=True, right=True, labelsize=12.5, pad=8, labelcolor='#222222')
    for lab in ax.get_xticklabels() + ax.get_yticklabels():
        lab.set_family(SANS)


def moc_panel(ax, scen):
    ax.set_xlim(1850, 2300 if scen == '45' else 1850 + 412 / 0.925)
    ax.set_ylim(8, 31.1)
    style(ax, [1900, 2000, 2100, 2200], [8, 12, 16, 20, 24, 28],
          ['8.0', '12.0', '16.0', '20.0', '24.0', '28.0'], 2)
    dash_col = '#a8a8a8' if scen == '45' else '#555555'
    dash_lw = 1.6 if scen == '45' else 1.0
    for yr in (2005, 2100):
        ax.axvline(yr, color=dash_col, lw=dash_lw, dashes=(5, 3), zorder=2)
    for lev in (23.5, 14.0):
        ax.axhline(lev, color='#111111', lw=1.5, zorder=4)

    draw(ax, hist_years, noresm_m_hist, 'nm')
    draw(ax, hist_years, noresm_me_hist, 'nme')
    draw(ax, hist_years, ccsm4_hist, 'ccsm')
    draw(ax, hist_years, mpi_lr_hist, 'lr')
    draw(ax, hist_years, mpi_p_hist, 'p')
    draw(ax, hist_years, canesm_hist, 'can')
    draw(ax, hist_years, cnrm_hist, 'cnrm')
    draw(ax, hist_years, mri_hist, 'mri')
    draw_pairs(ax, cm3_hist, 'cm3')
    draw_pairs(ax, esm2m_hist, 'esm')
    if scen == '45':
        draw(ax, scen_years, noresm_m_45, 'nm')
        draw(ax, scen_years, noresm_me_45, 'nme')
        draw(ax, scen_years, ccsm4_45, 'ccsm')
        draw(ax, scen_years, mpi_lr_45, 'lr')
        draw(ax, scen_years, canesm_45, 'can')
        draw(ax, scen_years, cnrm_45, 'cnrm')
        draw(ax, scen_years, mri_45, 'mri')
        draw(ax, scen_years, cm3_45, 'cm3')
        draw_pairs(ax, esm2m_45, 'esm')
        draw_pairs(ax, noresm_m_ext45, 'nm')
        draw_pairs(ax, ccsm4_ext45, 'ccsm')
        draw_pairs(ax, mpi_lr_ext45, 'lr')
        draw_pairs(ax, canesm_ext45, 'can')
    else:
        draw(ax, scen_years, noresm_m_85, 'nm')
        draw(ax, scen_years, ccsm4_85, 'ccsm')
        draw(ax, scen_years, mpi_lr_85, 'lr')
        draw(ax, scen_years, canesm_85, 'can')
        draw(ax, scen_years, cnrm_85, 'cnrm')
        draw(ax, scen_years, mri_85, 'mri')
        draw(ax, scen_years, cm3_85, 'cm3')
        draw_pairs(ax, esm2m_85, 'esm')
        draw_pairs(ax, mpi_lr_ext85, 'lr')


def pct_panel(ax, scen):
    ax.set_xlim(1850, 2100 if scen == '45' else 1850 + 412 / 1.66)
    ax.set_ylim(-60, 15.4)
    style(ax, [1850, 1900, 1950, 2000, 2050], [-60, -40, -20, 0],
          ['\u221260.', '\u221240.', '\u221220.', '0.'], 10)
    dash_col = '#a0a0a0' if scen == '45' else '#555555'
    dash_lw = 1.4 if scen == '45' else 1.0
    ax.axvline(2005, color=dash_col, lw=dash_lw, dashes=(5, 3), zorder=2)
    ax.axhline(0, color='#8a8a8a', lw=1.0, dashes=(6, 4), zorder=2)

    draw(ax, pct_hist_years, mri_pct, 'mri')
    draw(ax, pct_hist_years, cnrm_pct, 'cnrm')
    draw(ax, pct_hist_years, canesm_pct, 'can')
    draw(ax, pct_hist_years, ccsm4_pct, 'ccsm')
    draw(ax, pct_hist_years, mpi_lr_pct, 'lr')
    draw(ax, pct_hist_years, mpi_p_pct, 'p')
    draw(ax, pct_hist_years, noresm_m_pct, 'nm')
    draw(ax, pct_hist_years, noresm_me_pct, 'nme')
    draw_pairs(ax, cm3_pct, 'cm3')
    draw_pairs(ax, esm2m_pct, 'esm')
    if scen == '45':
        draw(ax, pct_scen_years, mri_pct45, 'mri')
        draw(ax, pct_scen_years, cnrm_pct45, 'cnrm')
        draw(ax, pct_scen_years, canesm_pct45, 'can')
        draw(ax, pct_scen_years, ccsm4_pct45, 'ccsm')
        draw(ax, pct_scen_years, mpi_lr_pct45, 'lr')
        draw(ax, pct_scen_years, mpi_p_pct45, 'p')
        draw(ax, pct_scen_years, noresm_m_pct45, 'nm')
        draw(ax, pct_scen_years, noresm_me_pct45, 'nme')
        draw(ax, pct_scen_years, cm3_pct45, 'cm3')
        draw_pairs(ax, esm2m_pct45, 'esm')
    else:
        draw(ax, pct_scen_years, mri_pct85, 'mri')
        draw(ax, pct_scen_years, cnrm_pct85, 'cnrm')
        draw(ax, pct_scen_years, canesm_pct85, 'can')
        draw(ax, pct_scen_years, ccsm4_pct85, 'ccsm')
        draw(ax, list(range(2005, 2101, 5)), mpi_lr_pct85, 'lr')
        draw(ax, pct_scen_years, mpi_p_pct85, 'p')
        draw(ax, pct_scen_years, noresm_m_pct85, 'nm')
        draw(ax, pct_scen_years, noresm_me_pct85, 'nme')
        draw(ax, pct_scen_years, cm3_pct85, 'cm3')
        draw_pairs(ax, esm2m_pct85, 'esm')


ax_a = add_ax(101, 17, 517, 277)
ax_b = add_ax(619, 17, 1031, 277)
ax_c = add_ax(101, 343, 517, 603)
ax_d = add_ax(619, 343, 1031, 603)
ax_e = add_ax(101, 682, 518, 942)

moc_panel(ax_a, '45')
moc_panel(ax_b, '85')
pct_panel(ax_c, '45')
pct_panel(ax_d, '85')

ax_e.set_xlim(1850, 2002.9)
ax_e.set_ylim(-3, 3)
style(ax_e, list(range(1860, 2001, 20)), [-3, -2, -1, 0, 1, 2, 3],
      ['\u22123.0', '\u22122.0', '\u22121.0', '0.0', '1.0', '2.0', '3.0'], 0.5)
ax_e.axhline(0, color='#777777', lw=0.9, zorder=2)
for data, key in [(e_mri, 'mri'), (e_cnrm, 'cnrm'), (e_canesm, 'can'), (e_ccsm4, 'ccsm'), (e_mpi_lr, 'lr'),
                  (e_mpi_p, 'p'), (e_noresm_m, 'nm'), (e_noresm_me, 'nme'), (e_cm3, 'cm3'), (e_esm2m, 'esm')]:
    draw_pairs(ax_e, data, key)

# panel letters and scenario tags
for ax, letter in [(ax_a, 'a)'), (ax_b, 'b)'), (ax_c, 'c)'), (ax_d, 'd)'), (ax_e, 'e)')]:
    ax.text(0.985, 0.955, letter, transform=ax.transAxes, ha='right', va='top',
            family=SERIF, fontsize=13, color='#555555', zorder=6)
for ax, tag in [(ax_a, 'RCP4.5'), (ax_b, 'RCP8.5'), (ax_c, 'RCP4.5'), (ax_d, 'RCP8.5')]:
    ax.text(0.012, 0.06, tag, transform=ax.transAxes, ha='left', va='center',
            family=SERIF, fontsize=12, color='#444444', zorder=6)

# axis titles
fig.text(22 / W, 1 - 145 / H, 'Atlantic MOC at 30N (Sv)', rotation=90, ha='center', va='center',
         family=SERIF, fontsize=14.5, color='#555555')
fig.text(19 / W, 1 - 468 / H, 'percentage anomaly', rotation=90, ha='center', va='center',
         family=SERIF, fontsize=14.5, color='#555555')
fig.text(17 / W, 1 - 807 / H, 'absolute anomaly (Sv)', rotation=90, ha='center', va='center',
         family=SERIF, fontsize=14.5, color='#555555')
for x, y in [(310, 316), (830, 316), (291, 648), (807, 648), (313, 979)]:
    fig.text(x / W, 1 - y / H, 'Years', ha='center', va='center', family=SANS, fontsize=12.5, color='#999999')

# legend
for i, (name, key) in enumerate(zip(model_names, model_keys)):
    y = 1 - (723 + i * 21.6) / H
    fig.add_artist(plt.Line2D([543 / W, 573 / W], [y, y], color=COL[key], lw=LW[key] + 0.4))
    fig.text(577 / W, y, name, ha='left', va='center', family=SANS, fontsize=11.5, color='#777777')

# caption
fig.text(732 / W, 1 - 689 / H, 'Figure 1.', ha='left', va='center', family='Liberation Serif',
         style='italic', fontsize=16.5, color='#111111')
fig.text(822 / W, 1 - 689 / H, '\u201cAMOC index\u201d from', ha='left', va='center',
         family='Liberation Serif', fontsize=16.5, color='#111111')
for i, txt in enumerate(caption_lines):
    fig.text(732 / W, 1 - (714.5 + i * 26.0) / H, txt, ha='left', va='center',
             family='Liberation Serif', fontsize=16.5, color='#111111')

fig.savefig('out.png', dpi=100)
